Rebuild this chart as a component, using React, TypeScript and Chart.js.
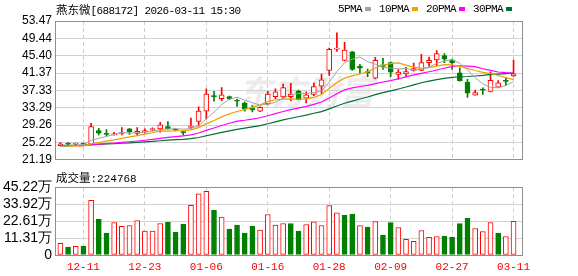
import React, { useEffect, useRef } from 'react';
import { Chart, registerables } from 'chart.js';

Chart.register(...registerables);

// ---------- data ----------
const stockTitleName = '燕东微';
const stockTitleRest = '[688172] 2026-03-11 15:30';
const volumeLabelName = '成交量';
const volumeLabelValue = ':224768';

const dates = ['12-08','12-09','12-10','12-11','12-12','12-15','12-16','12-17','12-18','12-19','12-22','12-23','12-24','12-25','12-26','12-29','12-30','12-31','01-05','01-06','01-07','01-08','01-09','01-12','01-13','01-14','01-15','01-16','01-19','01-20','01-21','01-22','01-23','01-26','01-27','01-28','01-29','01-30','02-02','02-03','02-04','02-05','02-06','02-09','02-10','02-11','02-12','02-13','02-24','02-25','02-26','02-27','03-02','03-03','03-04','03-05','03-06','03-09','03-10','03-11'];

const opens = [24.5,25.0,24.8,25.0,24.8,28.0,27.3,27.0,27.3,28.4,27.3,27.6,28.2,28.4,28.9,28.3,27.7,28.7,30.1,32.5,36.1,35.4,35.9,35.0,34.4,33.2,32.5,34.2,35.9,35.8,35.9,37.2,35.5,36.4,38.3,42.0,46.9,44.3,46.3,42.9,41.7,40.2,43.3,43.8,41.05,41.15,42.0,42.0,43.8,44.4,45.4,44.4,41.4,39.2,36.2,37.6,37.1,38.1,39.7,40.7];
const highs = [25.2,25.2,25.1,25.1,29.7,28.5,28.2,27.6,28.7,28.5,28.7,28.4,28.6,29.9,30.1,28.4,27.8,30.9,33.5,37.7,37.1,38.0,36.0,35.3,34.6,33.8,33.5,37.1,37.7,38.8,39.0,37.4,37.0,39.1,41.1,47.2,50.7,48.5,46.4,43.4,42.3,45.0,44.8,44.0,42.2,42.7,43.7,45.7,45.1,46.6,45.9,44.6,42.6,39.9,37.4,37.9,41.6,39.6,40.3,44.4];
const lows = [24.4,24.7,24.6,24.8,24.7,27.0,26.7,26.9,27.0,27.1,26.9,27.4,27.9,27.6,28.3,27.9,26.9,28.3,29.0,30.7,34.8,34.9,35.2,33.6,32.5,32.3,32.4,34.0,35.4,35.6,34.9,35.1,34.4,36.1,36.6,40.8,46.4,44.2,42.0,41.3,40.5,40.0,42.2,40.5,39.9,40.5,41.8,41.9,42.9,43.1,43.8,42.2,39.5,35.7,36.2,36.4,37.0,38.0,38.5,40.6];
const closes = [24.9,24.8,24.95,24.85,28.9,27.4,27.1,27.2,27.5,27.75,27.8,28.0,28.3,29.3,28.4,28.1,27.5,29.0,32.5,36.5,35.8,36.3,35.4,34.8,33.1,32.8,33.4,36.5,37.0,38.0,36.5,35.2,36.3,38.2,39.8,46.9,47.2,46.7,42.2,42.5,41.4,44.3,42.9,41.55,41.6,41.7,42.4,43.8,44.3,45.9,44.6,43.8,39.6,36.7,36.8,37.4,39.7,39.1,39.4,41.2];
// closes before the visible window (estimated from the starting level of the averages)
const priorCloses = [24.9,24.8,24.9,25.0,24.8,24.7,24.9,24.8,24.6,24.7,24.8,24.9,24.7,24.6,24.5,24.6,24.7,24.5,24.4,24.5,24.4,24.3,24.4,24.3,24.2,24.1,24.2,24.0,24.1];
// volume in 万
const volumes = [7.8,5.3,5.8,6.0,36.6,23.9,14.6,21.7,19.1,19.7,23.1,16.0,16.0,21.1,21.9,15.3,20.6,33.3,41.0,42.6,29.9,25.3,17.3,20.0,14.6,19.3,16.6,27.1,20.0,21.1,21.1,16.0,20.4,22.2,19.7,33.0,28.2,26.6,27.3,19.7,18.6,22.4,13.3,21.7,18.4,10.4,9.1,16.4,11.8,12.4,12.6,12.0,21.1,24.6,17.7,15.7,21.7,14.6,12.4,22.48];

const priceTicks = [21.19,25.22,29.26,33.29,37.33,41.37,45.40,49.44,53.47];
const priceTickLabels = ['21.19','25.22','29.26','33.29','37.33','41.37','45.40','49.44','53.47'];
const volTicks = [0,11.31,22.61,33.92,45.22];
const volTickLabels = ['0','11.31万','22.61万','33.92万','45.22万'];
const xTickLabels = ['12-11','12-23','01-06','01-16','01-28','02-09','02-27','03-11'];

const maPeriods = [5,10,20,30];
const maNames = ['5PMA','10PMA','20PMA','30PMA'];
const maColors = ['#a3a3a3','#f0a300','#ff00ff','#007032'];
const maWidths = [1,1.2,1.2,1.2];

const RED = '#ff0000';
const GREEN = '#008000';

// ---------- derived ----------
const xTickIdx = xTickLabels.map((l) => dates.indexOf(l));
const allCloses = [...priorCloses, ...closes];
const movingAverage = (period: number) =>
  closes.map((_, i) => {
    const end = priorCloses.length + i;
    let s = 0;
    for (let k = end - period + 1; k <= end; k++) s += allCloses[k];
    return s / period;
  });
const candleUp = closes.map((c, i) => c >= opens[i]);
const volUp = closes.map((c, i) => c >= (i === 0 ? priorCloses[priorCloses.length - 1] : closes[i - 1]));

const X_MIN = -0.7;
const X_MAX = 60.1;

const xScale = (showLabels: boolean) => ({
  type: 'linear',
  min: X_MIN,
  max: X_MAX,
  offset: false,
  grid: { offset: false, color: '#cdcdcd', drawTicks: false, lineWidth: 1 },
  border: { display: false, dash: [4, 3] },
  ticks: {
    display: showLabels,
    autoSkip: false,
    maxRotation: 0,
    minRotation: 0,
    padding: 5,
    color: RED,
    font: { family: 'Liberation Mono', size: 11 },
    callback: (v: number) => dates[v] ?? '',
  },
  afterBuildTicks: (s: any) => {
    s.ticks = xTickIdx.map((v) => ({ value: v }));
  },
  afterFit: (s: any) => {
    s.height = showLabels ? 21 : 0;
  },
});

const yScale = (min: number, max: number, ticks: number[], labels: string[], size: number) => ({
  type: 'linear',
  position: 'left',
  min,
  max,
  grid: { color: '#d2d2d2', drawTicks: false, lineWidth: 1 },
  border: { display: false },
  ticks: {
    autoSkip: false,
    padding: 3,
    color: '#000',
    font: { family: 'Liberation Sans', size },
    callback: (_v: number, i: number) => labels[i],
  },
  afterBuildTicks: (s: any) => {
    s.ticks = ticks.map((v) => ({ value: v }));
  },
  afterFit: (s: any) => {
    s.width = 55;
  },
});

const framePlugin = {
  id: 'frame',
  afterDraw: (chart: any) => {
    const { ctx, chartArea } = chart;
    ctx.save();
    ctx.strokeStyle = '#8f8f8f';
    ctx.lineWidth = 1;
    const l = Math.floor(chartArea.left) + 0.5;
    const t = Math.floor(chartArea.top) + 0.5;
    const r = Math.floor(chartArea.right) + 0.5;
    const b = Math.floor(chartArea.bottom) + 0.5;
    ctx.strokeRect(l, t, r - l, b - t);
    ctx.restore();
  },
};

const watermarkPlugin = {
  id: 'watermark',
  beforeDraw: (chart: any) => {
    const { ctx } = chart;
    ctx.save();
    ctx.fillStyle = '#ececec';
    ctx.font = 'italic bold 34px "Noto Sans CJK SC"';
    ctx.textBaseline = 'middle';
    ctx.fillText('东方财富', 238, 92);
    ctx.restore();
  },
};

const baseOptions = (padding: any) => ({
  responsive: false,
  animation: false,
  events: [],
  layout: { padding, autoPadding: false },
  plugins: { legend: { display: false }, tooltip: { enabled: false }, title: { display: false } },
});

export default function App() {
  const mainRef = useRef<HTMLCanvasElement>(null);
  const volRef = useRef<HTMLCanvasElement>(null);

  useEffect(() => {
    document.body.style.margin = '0';
    const maDatasets = maPeriods.map((p, k) => {
      const ma = movingAverage(p);
      return {
        type: 'line',
        label: maNames[k],
        data: ma.map((y, i) => ({ x: i, y })),
        borderColor: maColors[k],
        borderWidth: maWidths[k],
        pointRadius: 0,
        tension: 0,
        fill: false,
        order: 0,
      };
    });

    const main = new Chart(mainRef.current as HTMLCanvasElement, {
      type: 'bar',
      data: {
        datasets: [
          ...maDatasets,
          {
            type: 'bar',
            label: 'body',
            data: closes.map((c, i) => ({ x: i, y: [opens[i], c] })),
            backgroundColor: candleUp.map((u) => (u ? '#ffffff' : GREEN)),
            borderColor: candleUp.map((u) => (u ? RED : GREEN)),
            borderWidth: 1,
            borderSkipped: false,
            barThickness: 5,
            minBarLength: 1,
            grouped: false,
            order: 1,
          },
          {
            type: 'bar',
            label: 'wick',
            data: closes.map((_, i) => ({ x: i, y: [lows[i], highs[i]] })),
            backgroundColor: candleUp.map((u) => (u ? RED : GREEN)),
            borderWidth: 0,
            barThickness: 1,
            grouped: false,
            order: 2,
          },
        ] as any,
      },
      options: {
        ...baseOptions({ left: 0, right: 56, top: 21, bottom: 4 }),
        scales: {
          x: xScale(false),
          y: yScale(21.19, 53.47, priceTicks, priceTickLabels, 12),
        },
      } as any,
      plugins: [watermarkPlugin, framePlugin],
    });

    const vol = new Chart(volRef.current as HTMLCanvasElement, {
      type: 'bar',
      data: {
        datasets: [
          {
            label: 'volume',
            data: volumes.map((v, i) => ({ x: i, y: v })),
            backgroundColor: volUp.map((u) => (u ? '#ffffff' : GREEN)),
            borderColor: volUp.map((u) => (u ? RED : GREEN)),
            borderWidth: 1,
            borderSkipped: false,
            barThickness: 5,
            grouped: false,
          },
        ] as any,
      },
      options: {
        ...baseOptions({ left: 0, right: 56, top: 11, bottom: 0 }),
        scales: {
          x: xScale(true),
          y: yScale(0, 45.22, volTicks, volTickLabels, 14),
        },
      } as any,
      plugins: [framePlugin],
    });

    return () => {
      main.destroy();
      vol.destroy();
    };
  }, []);

  const cjk: React.CSSProperties = { fontFamily: '"Noto Sans CJK SC"', fontSize: '11.5px' };
  const mono: React.CSSProperties = { fontFamily: '"Liberation Mono"', fontSize: '11px', letterSpacing: '-0.6px' };

  return (
    <div style={{ position: 'fixed', left: 0, top: 0, width: 578, height: 276, background: '#fff', overflow: 'hidden' }}>
      <canvas ref={mainRef} width={578} height={170} style={{ position: 'absolute', left: 0, top: 0, width: 578, height: 170 }} />
      <canvas ref={volRef} width={578} height={100} style={{ position: 'absolute', left: 0, top: 176, width: 578, height: 100 }} />
      <div style={{ position: 'absolute', left: 56, top: 2, lineHeight: '14px', color: '#000', whiteSpace: 'nowrap' }}>
        <span style={cjk}>{stockTitleName}</span>
        <span style={mono}>{stockTitleRest}</span>
      </div>
      <div style={{ position: 'absolute', left: 338, top: 2, lineHeight: '14px', display: 'flex', alignItems: 'center', color: '#000', whiteSpace: 'nowrap' }}>
        {maNames.map((n, k) => (
          <span key={n} style={{ display: 'flex', alignItems: 'center', marginRight: 8 }}>
            <span style={mono}>{n}</span>
            <span style={{ display: 'inline-block', width: 6, height: 4, marginLeft: 3, background: maColors[k] }} />
          </span>
        ))}
      </div>
      <div style={{ position: 'absolute', left: 56, top: 170, lineHeight: '14px', color: '#000', whiteSpace: 'nowrap' }}>
        <span style={cjk}>{volumeLabelName}</span>
        <span style={{ ...mono, letterSpacing: '0px' }}>{volumeLabelValue}</span>
      </div>
    </div>
  );
}
